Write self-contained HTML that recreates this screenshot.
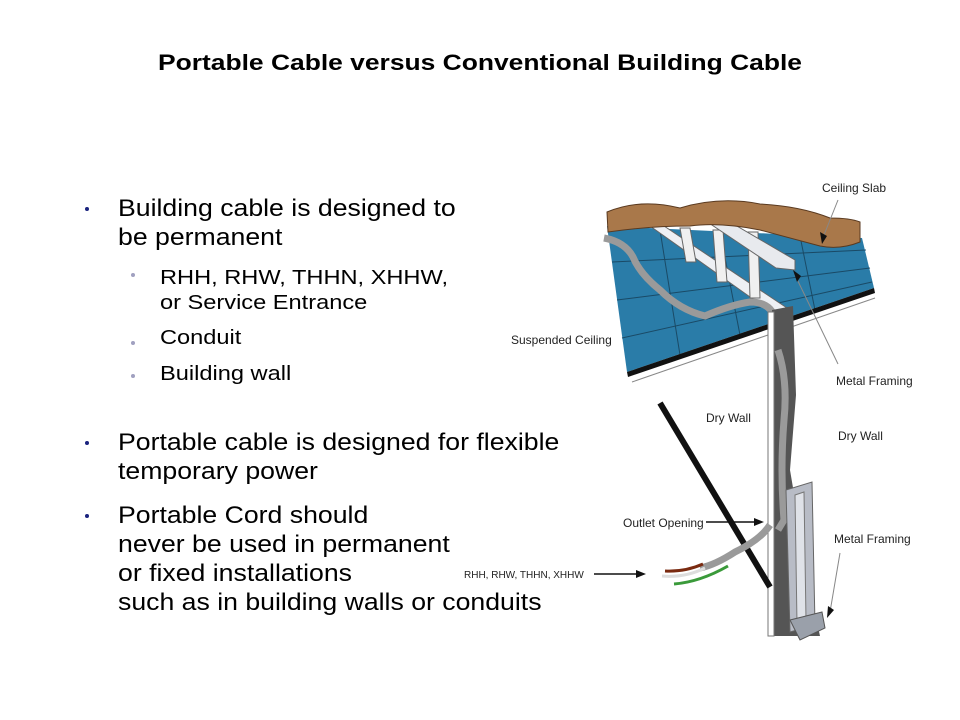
<!DOCTYPE html>
<html><head><meta charset="utf-8"><style>
html,body{margin:0;padding:0;background:#fff;}
body{width:960px;height:720px;position:relative;overflow:hidden;font-family:"Liberation Sans",Arial,sans-serif;}
.t{position:absolute;white-space:nowrap;color:#000;transform-origin:0 0;}
.h{left:0;width:960px;text-align:center;top:50px;font-size:22px;font-weight:bold;transform-origin:480px 0;transform:scaleX(1.2);}
.b1{font-size:24px;line-height:29px;transform:scaleX(1.11);}
.b2{font-size:20px;line-height:25px;transform:scaleX(1.18);}
.d1{position:absolute;width:4px;height:4px;border-radius:50%;background:#1a237e;}
.d2{position:absolute;width:4px;height:4px;border-radius:50%;background:#a0a0c0;}
</style></head><body>
<div class="t h">Portable Cable versus Conventional Building Cable</div>

<div class="d1" style="left:85px;top:207px"></div>
<div class="t b1" style="left:118px;top:194px">Building cable is designed to<br>be permanent</div>
<div class="d2" style="left:131px;top:273px"></div>
<div class="t b2" style="left:160px;top:266px">RHH, RHW, THHN, XHHW,<br>or Service Entrance</div>
<div class="d2" style="left:131px;top:341px"></div>
<div class="t b2" style="left:160px;top:326px">Conduit</div>
<div class="d2" style="left:131px;top:374px"></div>
<div class="t b2" style="left:160px;top:362px">Building wall</div>

<div class="d1" style="left:85px;top:441px"></div>
<div class="t b1" style="left:118px;top:428px">Portable cable is designed for flexible<br>temporary power</div>
<div class="d1" style="left:85px;top:514px"></div>
<div class="t b1" style="left:118px;top:501px">Portable Cord should<br>never be used in permanent<br>or fixed installations<br>such as in building walls or conduits</div>

<svg width="960" height="720" style="position:absolute;left:0;top:0" xmlns="http://www.w3.org/2000/svg">
<polygon points="607,226 862,238 874,288 627,372" fill="#2a7ca8"/>
<g stroke="#1a4a66" stroke-width="1" fill="none">
<line x1="612" y1="262" x2="866" y2="250"/>
<line x1="617" y1="300" x2="870" y2="268"/>
<line x1="622" y1="338" x2="872" y2="282"/>
<line x1="660" y1="230" x2="680" y2="355"/>
<line x1="720" y1="232" x2="740" y2="335"/>
<line x1="800" y1="236" x2="815" y2="310"/>
</g>
<polygon points="650,226 664,226 790,310 774,314" fill="#eef0f4" stroke="#666" stroke-width="1"/>
<polygon points="680,228 690,228 696,262 686,262" fill="#f0f0f0" stroke="#666"/>
<polygon points="713,230 723,230 727,282 717,282" fill="#f0f0f0" stroke="#666"/>
<polygon points="748,232 758,232 760,298 750,298" fill="#f0f0f0" stroke="#666"/>
<polygon points="700,217 718,215 795,260 795,270 776,268" fill="#e8eaee" stroke="#666"/>
<path d="M607,212 Q640,198 680,208 Q720,196 760,204 Q800,206 830,218 Q850,218 860,222 L860,242 Q840,250 820,246 Q790,238 760,230 Q720,222 690,226 Q650,226 608,232 Z" fill="#a9784a" stroke="#5a3a20" stroke-width="1"/>
<polygon points="627,372 874,288 875,293 628,377" fill="#111"/>
<line x1="632" y1="382" x2="875" y2="298" stroke="#888" stroke-width="1"/>
<path d="M604,238 Q625,242 633,257 Q640,274 660,290 Q680,310 705,316 Q730,305 750,302 Q770,302 775,318" fill="none" stroke="#9a9a9a" stroke-width="7"/>
<polygon points="772,310 793,306 796,395 790,470 812,600 820,636 772,636" fill="#555"/>
<polygon points="768,312 774,312 774,636 768,636" fill="#fff" stroke="#777" stroke-width="1"/>
<path d="M778,350 Q788,380 784,420 Q780,470 784,520 L778,530" fill="none" stroke="#9a9a9a" stroke-width="7"/>
<polygon points="786,490 812,482 815,625 790,632" fill="#b8bcc6" stroke="#666"/>
<polygon points="795,495 804,492 806,620 797,624" fill="#dfe2e8" stroke="#777"/>
<polygon points="790,620 822,612 825,628 800,640" fill="#9aa0aa" stroke="#555"/>
<line x1="660" y1="403" x2="770" y2="587" stroke="#111" stroke-width="6"/>
<path d="M770,525 Q760,540 735,552 Q715,565 700,568" fill="none" stroke="#9a9a9a" stroke-width="7"/>
<path d="M703,564 Q685,572 665,571" fill="none" stroke="#7a2a10" stroke-width="3"/>
<path d="M705,568 Q685,578 662,576" fill="none" stroke="#ddd" stroke-width="3"/>
<path d="M728,566 Q700,582 674,584" fill="none" stroke="#3a9a3a" stroke-width="3"/>
<g stroke="#888" stroke-width="1" fill="none">
<line x1="838" y1="200" x2="822" y2="240"/>
<line x1="838" y1="364" x2="795" y2="275"/>
<line x1="840" y1="553" x2="830" y2="612"/>
</g>
<polygon points="822,244 820,232 827,236" fill="#111"/>
<polygon points="793,270 797,282 801,276" fill="#111"/>
<polygon points="827,618 828,606 834,610" fill="#111"/>
<line x1="706" y1="522" x2="758" y2="522" stroke="#111" stroke-width="1.5"/>
<polygon points="764,522 754,518 754,526" fill="#111"/>
<line x1="594" y1="574" x2="640" y2="574" stroke="#111" stroke-width="1.5"/>
<polygon points="646,574 636,570 636,578" fill="#111"/>
<g font-family="Liberation Sans Narrow,Liberation Sans,sans-serif" font-size="12" fill="#222">
<text x="822" y="192">Ceiling Slab</text>
<text x="511" y="344">Suspended Ceiling</text>
<text x="836" y="385">Metal Framing</text>
<text x="706" y="422">Dry Wall</text>
<text x="838" y="440">Dry Wall</text>
<text x="623" y="527">Outlet Opening</text>
<text x="834" y="543">Metal Framing</text>
<text x="464" y="578" font-size="10">RHH, RHW, THHN, XHHW</text>
</g>
</svg>
</body></html>
